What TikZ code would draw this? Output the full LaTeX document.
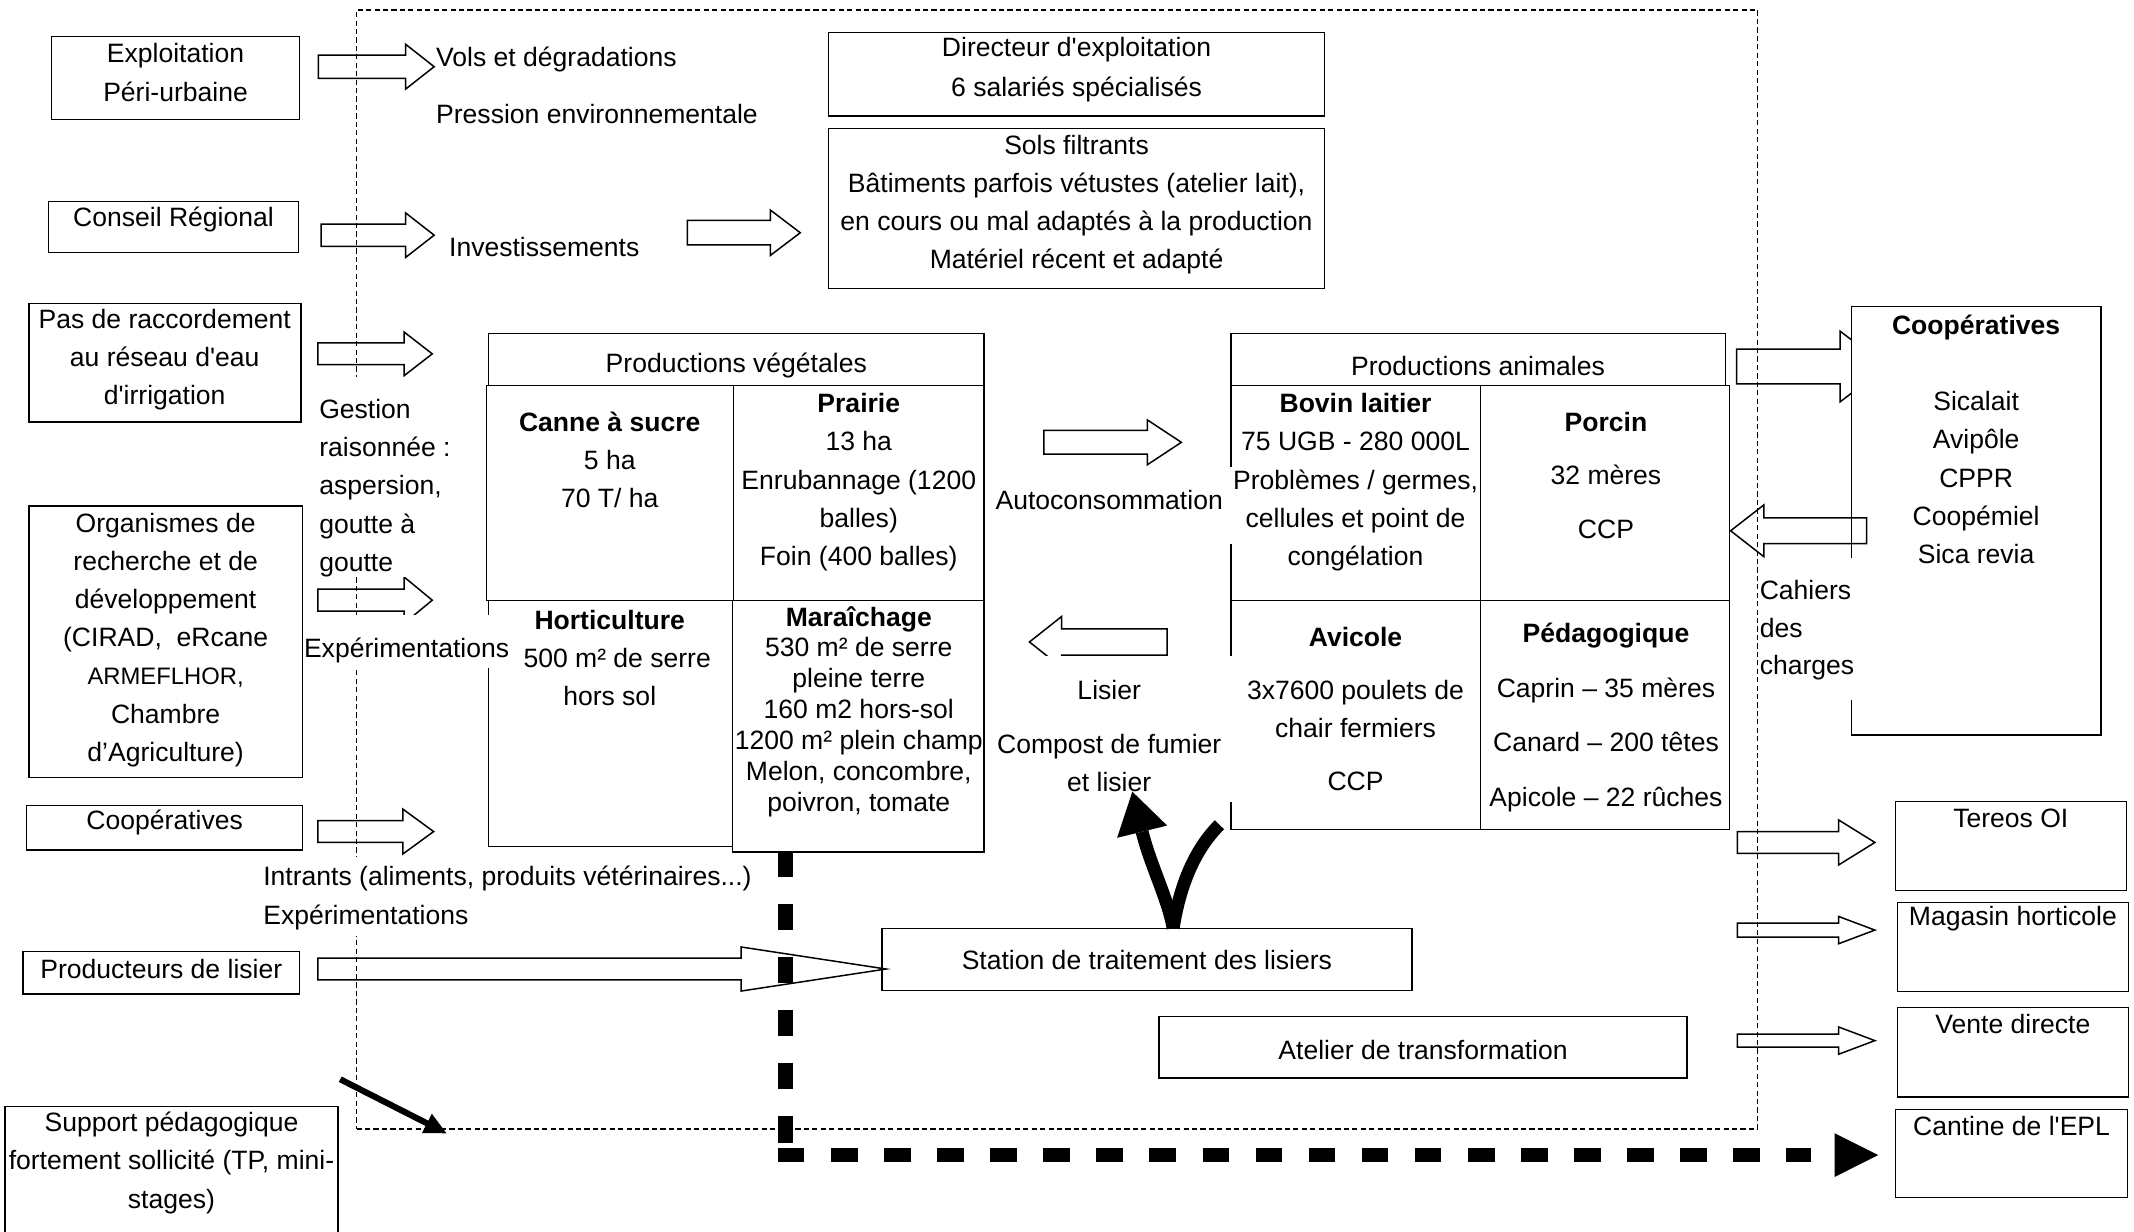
\documentclass[tikz,border=0pt]{standalone}
\usepackage{fontspec}
\setmainfont{Liberation Sans}[Ligatures=TeXOff]
\usetikzlibrary{arrows.meta}
% hollow block arrow: name, shaft start x, head base x, tip x, centre y, shaft half height, head half height
\newcommand{\fatarr}[7]{%
  \draw[fat] (#2,#5-#6) -- (#3,#5-#6) -- (#3,#5-#7) -- (#4,#5) -- (#3,#5+#7) -- (#3,#5+#6) -- (#2,#5+#6) -- cycle;
  \coordinate (#1) at (#4,#5);}
\begin{document}
\begin{tikzpicture}[x=1pt,y=-1pt,
  every node/.style={inner sep=0pt, outer sep=0pt},
  txt/.style={font=\fontsize{19.5}{28}\selectfont, align=center, yshift=-1.8pt},
  txtl/.style={font=\fontsize{19.5}{28}\selectfont, align=left, anchor=west, yshift=-1.8pt},
  one/.style={yshift=1.2pt},
  box/.style={draw, line width=0.9pt, fill=white, anchor=north west},
  fat/.style={draw, line width=1.1pt, line join=miter},
  mask/.style={fill=white},
  farm/.style={draw, line width=0.9pt, dash pattern=on 3.8pt off 2.4pt, anchor=north west},
  heavy/.style={line width=10pt, dash pattern=on 19.5pt off 19.5pt},
]
\useasboundingbox (0,0) rectangle (1568,905);

% dotted frame of the farm
\node[farm, minimum width=1029.6, minimum height=822.2] (farm) at (262,7.3) {};

% arrow hidden partly by the cooperative box
\fatarr{aCoop}{1276}{1352}{1386}{269.3}{12.7}{26}

% ---- boxes
\node[box, minimum width=182,   minimum height=61]    (expl)    at (38,27) {};
\node[box, minimum width=183.7, minimum height=37.2]  (conseil) at (35.6,148.2) {};
\node[box, minimum width=199.9, minimum height=87.1]  (pas)     at (21.3,222.9) {};
\node[box, minimum width=200.8, minimum height=199.3] (org)     at (21.3,371.8) {};
\node[box, minimum width=202.4, minimum height=32.5]  (coopL)   at (19.7,592) {};
\node[box, minimum width=203.3, minimum height=31]    (prod)    at (16.9,699.3) {};
\node[box, minimum width=244.65,minimum height=120]   (support) at (3.75,813) {};
\node[box, minimum width=364.2, minimum height=61.4]  (dir)     at (608.8,23.8) {};
\node[box, minimum width=364.2, minimum height=117.5] (sols)    at (608.8,94.3) {};
\node[box, minimum width=364,   minimum height=38]    (pvhead)  at (359,245) {};
\node[box, minimum width=181.5, minimum height=158]   (canne)   at (357.5,283) {};
\node[box, minimum width=184,   minimum height=158]   (prairie) at (539,283) {};
\node[box, minimum width=179,   minimum height=181]   (horti)   at (359,441) {};
\node[box, minimum width=185,   minimum height=185]   (mara)    at (538,441) {};
\node[box, minimum width=363.5, minimum height=38]    (pahead)  at (904.5,245) {};
\node[box, minimum width=183.5, minimum height=158]   (bovin)   at (904.5,283) {};
\node[box, minimum width=183,   minimum height=158]   (porcin)  at (1088,283) {};
\node[box, minimum width=183.5, minimum height=168.5] (avicole) at (904.5,441) {};
\node[box, minimum width=183,   minimum height=168.5] (peda)    at (1088,441) {};
\node[box, minimum width=183.2, minimum height=314.7] (coopR)   at (1360.5,225.3) {};
\node[box, minimum width=169.9, minimum height=65.4]  (tereos)  at (1392.6,589) {};
\node[box, minimum width=170,   minimum height=65.6]  (magasin) at (1394,663) {};
\node[box, minimum width=170,   minimum height=66]    (vente)   at (1394,740) {};
\node[box, minimum width=170.4, minimum height=65]    (cantine) at (1392.6,815) {};
\node[box, minimum width=389.5, minimum height=45]    (station) at (648,682.5) {};
\node[box, minimum width=388,   minimum height=45]    (atelier) at (851.6,747) {};

% ---- hollow arrows
\fatarr{a1}{234}{298}{319}{49}{8.5}{16.5}
\fatarr{a2}{236}{298}{319}{172.8}{8.2}{16.4}
\fatarr{a3}{505}{566}{588}{171}{9}{16.7}
\fatarr{a4}{233.6}{297}{317.6}{260}{8}{16}
\fatarr{a5}{233.6}{297}{317.6}{441}{8.1}{17}
\fatarr{a6}{233.5}{296}{318.6}{611}{8}{16.5}
\fatarr{a7}{233.5}{544.5}{651}{712}{8}{16.2}
\fatarr{aAuto}{767}{843}{868}{325}{8.7}{16.5}
\fatarr{aLis}{857.5}{780}{756.4}{471.7}{9.7}{18.7}
\fatarr{aCah}{1371.5}{1296}{1271.6}{390}{9.5}{19}
\fatarr{aTer}{1276.6}{1351}{1377.6}{619}{8}{16.5}
\fatarr{aMag}{1276.6}{1351}{1377.6}{683.4}{5.2}{10}
\fatarr{aVen}{1276.6}{1351}{1377.6}{764.6}{4.8}{10}

% ---- heavy dashed route to the canteen
\coordinate (hd1) at (577.5,625);
\coordinate (hd2) at (577.5,841);
\coordinate (hh1) at (571.6,848.5);
\coordinate (hh2) at (1331,848.5);
\draw[heavy, line width=11pt] (hd1) -- (hd2);
\draw[heavy] (hh1) -- (hh2);
\fill (1348,832.7) -- (1380,848.7) -- (1348,864.8) -- cycle;

% ---- white masks behind free labels
\fill[mask] (233,277) rectangle (331,424);
\fill[mask] (223,452) rectangle (376,491);
\fill[mask] (728,343) rectangle (906,400);
\fill[mask] (728,482) rectangle (906,589);
\fill[mask] (1294,410) rectangle (1372,514);
\fill[mask] (190,630) rectangle (556,688);

% ---- texts in boxes
\node[txt] (explT) at (129,51.5) {Exploitation\\Péri-urbaine};
\node[txt, one] (conseilT) at (127.5,160.4) {Conseil Régional};
\node[txt] (pasT) at (121,262.4) {Pas de raccordement\\au réseau d'eau\\d'irrigation};
\node[txt] (orgT) at (121.7,468.4) {Organismes de\\recherche et de\\développement\\(CIRAD,\ \ eRcane\\{\fontsize{17.5}{28}\selectfont ARMEFLHOR,}\\Chambre\\d’Agriculture)};
\node[txt, one] (coopLT) at (121,603.7) {Coopératives};
\node[txt, one] (prodT) at (118.5,711.5) {Producteurs de lisier};
\node[txt] (supportT) at (126,852.7) {Support pédagogique\\fortement sollicité (TP, mini-\\stages)};
\node[txt, font=\fontsize{19.5}{29}\selectfont] (dirT) at (791,49.5) {Directeur d'exploitation\\6 salariés spécialisés};
\node[txt] (solsT) at (791,148.5) {Sols filtrants\\Bâtiments parfois vétustes (atelier lait),\\en cours ou mal adaptés à la production\\Matériel récent et adapté};
\node[txt, one] (pvheadT) at (541,268) {Productions végétales};
\node[txt] (canneT) at (448,336) {\textbf{Canne à sucre}\\5 ha\\70 T/ ha};
\node[txt] (prairieT) at (631,352.5) {\textbf{Prairie}\\13 ha\\Enrubannage (1200\\balles)\\Foin (400 balles)};
\node[txt] (hortiT) at (448,481.5) {\textbf{Horticulture}\\\hspace*{11pt}500 m² de serre\\hors sol};
\node[txt, font=\fontsize{19.5}{22.67}\selectfont] (maraT) at (631,521) {\textbf{Maraîchage}\\530 m² de serre\\pleine terre\\160 m2 hors-sol\\1200 m² plein champ\\Melon, concombre,\\poivron, tomate};
\node[txt, one] (paheadT) at (1086,268) {Productions animales};
\node[txt] (bovinT) at (996,352.5) {\textbf{Bovin laitier}\\75 UGB - 280 000L\\Problèmes / germes,\\cellules et point de\\congélation};
\node[txt, font=\fontsize{19.5}{39.5}\selectfont] (porcinT) at (1180,347.5) {\textbf{Porcin}\\32 mères\\CCP};
\node[txt] (avicoleT) at (996,519.4) {\textbf{Avicole}\\[11pt]3x7600 poulets de\\chair fermiers\\[11pt]CCP};
\node[txt, font=\fontsize{19.5}{40}\selectfont] (pedaT) at (1180,525.5) {\textbf{Pédagogique}\\Caprin – 35 mères\\Canard – 200 têtes\\Apicole – 22 rûches};
\node[txt] (coopRT) at (1452,321) {\textbf{Coopératives}\\[28pt]Sicalait\\Avipôle\\CPPR\\Coopémiel\\Sica revia};
\node[txt, one] (tereosT) at (1477.5,601) {Tereos OI};
\node[txt, one] (magasinT) at (1479,674.5) {Magasin horticole};
\node[txt, one] (venteT) at (1479,752) {Vente directe};
\node[txt, one] (cantineT) at (1478,826.7) {Cantine de l'EPL};
\node[txt, one] (stationT) at (842.7,705) {Station de traitement des lisiers};
\node[txt, one] (atelierT) at (1045.6,771) {Atelier de transformation};

% ---- free labels
\node[txtl, one] (vols) at (320.5,43) {Vols et dégradations};
\node[txtl, one] (pression) at (320.5,83) {Pression environnementale};
\node[txtl, one] (invest) at (330,181) {Investissements};
\node[txtl] (gestion) at (234.6,356.8) {Gestion\\raisonnée :\\aspersion,\\goutte à\\goutte};
\node[txtl, one] (exper1) at (223.4,477) {Expérimentations};
\node[txt, one] (autoc) at (815,367) {Autoconsommation};
\node[txt] (lisier) at (815,539) {Lisier\\[12pt]Compost de fumier\\et lisier};
\node[txtl] (intrants) at (193.5,658) {Intrants (aliments, produits vétérinaires...)\\Expérimentations};
\node[txtl, font=\fontsize{19.5}{27.5}\selectfont] (cahiers) at (1293,461.2) {Cahiers\\des\\charges};

% ---- support arrow
\coordinate (sp0) at (250,793);
\coordinate (sp1) at (314,825.5);
\draw[line width=4.5pt] (sp0) -- (sp1);
\fill (310.1,832.5) -- (328,832.7) -- (317.3,818.3) -- cycle;

% ---- thick V from the slurry station
\coordinate (vb) at (862,682);
\coordinate (vl) at (839.2,611.1);
\coordinate (vr) at (896,606);
\draw[line width=9.5pt] (vb) .. controls (858,660) and (845,635) .. (vl);
\fill (857.6,606.6) -- (832,581.7) -- (820.8,615.6) -- cycle;
\draw[line width=9.5pt] (vb) .. controls (867,650) and (878,624) .. (vr);
\end{tikzpicture}
\end{document}
